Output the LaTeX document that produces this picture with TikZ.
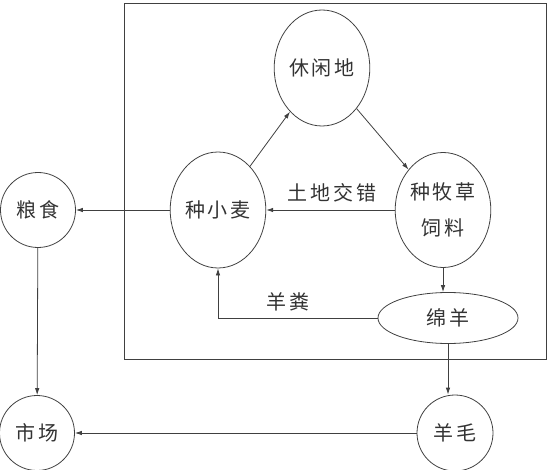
\documentclass[tikz,border=0pt]{standalone}
\usepackage{fontspec}
\setmainfont[LetterSpace=14]{Noto Sans CJK SC}
\usetikzlibrary{shapes.geometric,arrows.meta}
\begin{document}
\begin{tikzpicture}[x=1pt,y=-1pt,line width=0.8pt,
  every node/.style={text=black!80,font=\fontsize{20}{36}\selectfont},
  ell/.style={ellipse,draw=black!75,inner sep=1pt},
  circ/.style={circle,draw=black!75,inner sep=0pt,minimum size=75pt},
  arr/.style={draw=black!75,-{Latex[length=7pt,width=4.5pt]}},
  lab/.style={inner sep=1pt}]
\useasboundingbox (0,0) rectangle (548,470);
\draw[black!75] (124,3) rectangle (546,359);
% nodes
\node[ell,minimum width=95pt,minimum height=116pt] (xxd) at (322,68) {休闲地};
\node[ell,minimum width=93pt,minimum height=116pt] (xm) at (218,210) {种小麦};
\node[ell,minimum width=94pt,minimum height=115pt,align=center] (mc) at (443,210) {种牧草\\饲料};
\node[ell,minimum width=140pt,minimum height=51pt] (my) at (448,318) {绵羊};
\node[circ] (ls) at (38,210) {粮食};
\node[circ] (sc) at (37,433) {市场};
\node[circ,minimum size=76pt] (ym) at (455,433) {羊毛};
\node[lab] (l1) at (332,193) {土地交错};
\node[lab] (l2) at (288,302) {羊粪};
% connectors
\draw[arr] (xm) -- (xxd);
\draw[arr] (xxd) -- (mc);
\draw[arr] (mc) -- (xm);
\draw[arr] (xm) -- (ls);
\draw[arr] (mc.south) -- (mc.south |- my.north);
\draw[arr] (my.west) -| (xm.south);
\draw[arr] (my.south) -- (my.south |- ym.north);
\draw[arr] (ls) -- (sc);
\draw[arr] (ym) -- (sc);
\end{tikzpicture}
\end{document}
